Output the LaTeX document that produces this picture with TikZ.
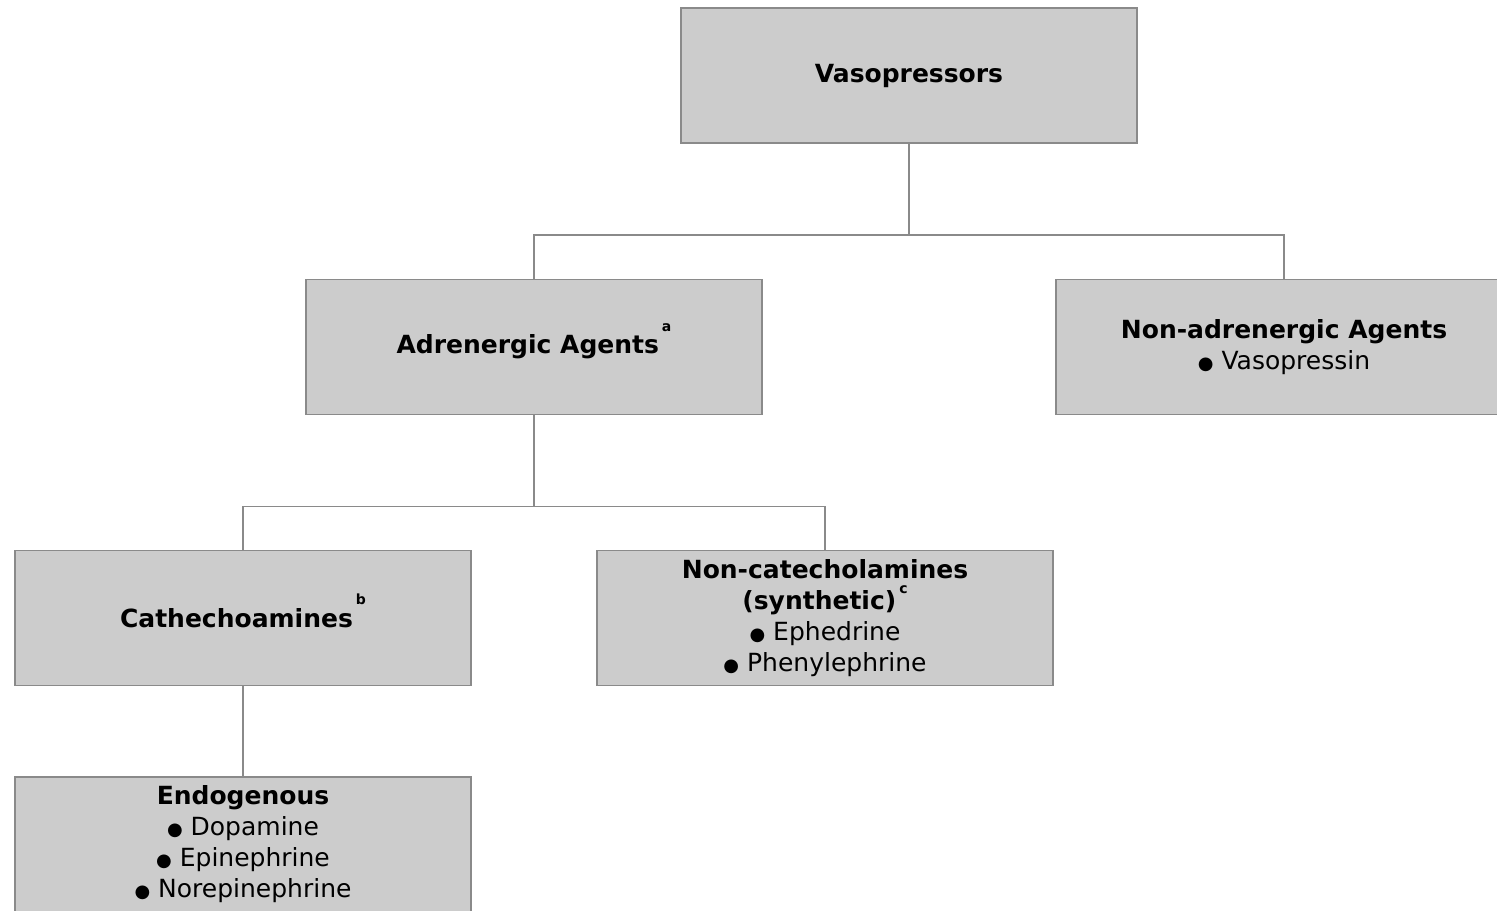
\documentclass[tikz,border=0pt]{standalone}
\usepackage{fontspec}
\setmainfont{DejaVu Sans}
\usepackage{xcolor}
\usepackage{tikz}

\definecolor{boxfill}{HTML}{CCCCCC}
\definecolor{boxline}{HTML}{8A8A8A}

\newcommand{\bul}{\scalebox{0.72}{●}\ }
\newcommand{\note}[2][0.9em]{\kern0.12em\smash{\raisebox{#1}{\fontsize{7}{7}\selectfont\bfseries #2}}}

\begin{document}
\begin{tikzpicture}[x=0.5pt, y=-0.5pt, every node/.style={draw=boxline, fill=boxfill, line width=0.8pt, minimum width=228pt, minimum height=67.5pt, inner sep=0pt, align=center, font=\fontsize{12.5}{15.5}\selectfont}]
				\useasboundingbox (0,0) rectangle (1497,910);
				\node (vaso) at (909,75.5) {\textbf{Vasopressors}};
				\node (adr) at (534,347) {\textbf{Adrenergic Agents}\note{a}};
				\node (nonadr) at (1284,347) {\textbf{Non-adrenergic Agents}\\\bul Vasopressin};
				\node (catech) at (243,618) {\textbf{Cathechoamines}\note{b}};
				\node (noncat) at (825,618) {\textbf{Non-catecholamines}\\\textbf{(synthetic)}\note[0.62em]{c}\\\bul Ephedrine\\\bul Phenylephrine};
				\node (endo) at (243,844.5) {\textbf{Endogenous}\\\bul Dopamine\\\bul Epinephrine\\\bul Norepinephrine};
				
				\draw[boxline, line width=0.8pt] (vaso.south) -- ++(0,91) -| (adr.north);
				\draw[boxline, line width=0.8pt] (vaso.south) -- ++(0,91) -| (nonadr.north);
				\draw[boxline, line width=0.8pt] (adr.south) -- ++(0,91) -| (catech.north);
				\draw[boxline, line width=0.8pt] (adr.south) -- ++(0,91) -| (noncat.north);
				\draw[boxline, line width=0.8pt] (catech) -- (endo);
			\end{tikzpicture}
\end{document}
